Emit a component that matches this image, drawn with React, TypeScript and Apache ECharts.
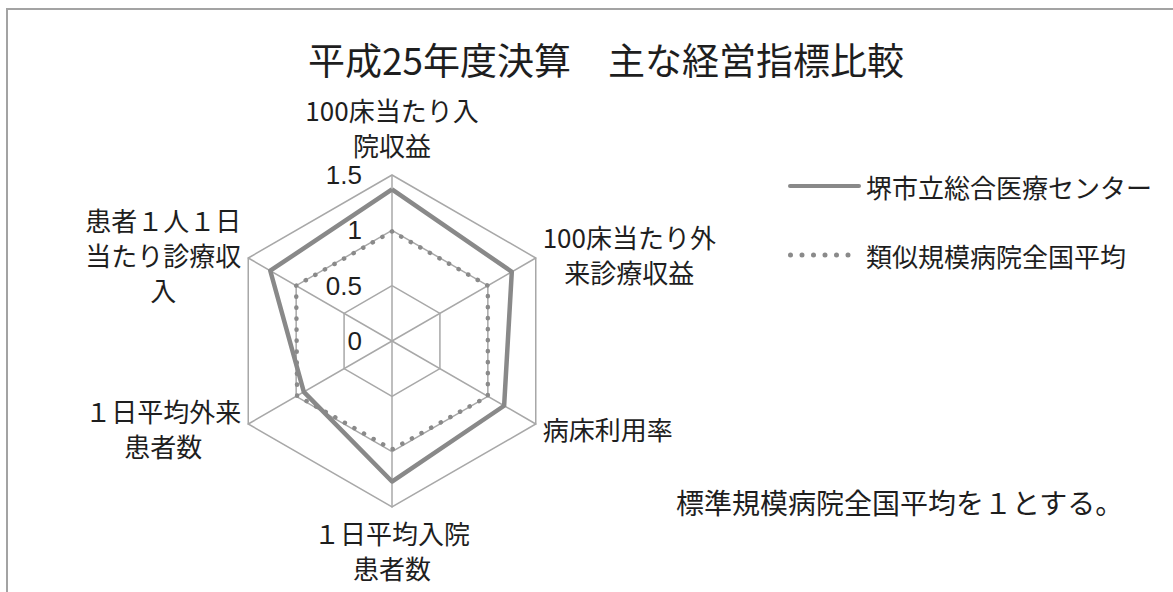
import { useEffect, useRef } from "react";
import * as echarts from "echarts";

const TITLE = "平成25年度決算　主な経営指標比較";
const NOTE = "標準規模病院全国平均を１とする。";
// indicators in ECharts order (counter-clockwise from the top)
const INDICATORS = [
  "100床当たり入\n院収益",
  "患者１人１日\n当たり診療収\n入",
  "１日平均外来\n患者数",
  "１日平均入院\n患者数",
  "病床利用率",
  "100床当たり外\n来診療収益",
];
const AXIS_MIN = 0;
const AXIS_MAX = 1.5;
const SPLIT_NUMBER = 3;
const SERIES_NAMES = ["堺市立総合医療センター", "類似規模病院全国平均"];
const SAKAI = [1.37, 1.27, 0.92, 1.27, 1.17, 1.25];
const SIMILAR = [0.99, 1.0, 0.99, 0.98, 1.0, 1.0];

const FONT = '"Noto Sans CJK JP", "Noto Sans", sans-serif';
const SOLID = "#898989";
const DOTTED = "#8a8a8a";
const GRID = "#a8a8a8";

const SOLID_ICON = "path://M2,0L71,0A2,2 0 0,1 71,4L2,4A2,2 0 0,1 2,0Z";
const DOT_ICON =
  "path://" +
  [2.5, 14, 25.5, 37, 48.5, 60]
    .map((c) => `M${c - 2.5},2.5a2.5,2.5 0 1,0 5,0a2.5,2.5 0 1,0 -5,0Z`)
    .join("") +
  "M73,0M73,5";

export default function App() {
  const ref = useRef<HTMLDivElement>(null);
  useEffect(() => {
    if (!ref.current) return;
    const chart = echarts.init(ref.current, undefined, { renderer: "svg" });
    chart.setOption({
      animation: false,
      backgroundColor: "#ffffff",
      title: {
        text: TITLE,
        left: 601,
        top: 35,
        textAlign: "center",
        textStyle: { fontFamily: FONT, fontSize: 37, fontWeight: "normal", color: "#1e1e1e" },
      },
      legend: {
        orient: "vertical",
        left: 788,
        top: 171,
        padding: 0,
        itemGap: 39,
        itemWidth: 73,
        itemHeight: 5,
        selectedMode: false,
        textStyle: { fontFamily: FONT, fontSize: 26, color: "#1e1e1e", lineHeight: 30 },
        data: [
          { name: SERIES_NAMES[0], icon: SOLID_ICON, itemStyle: { color: SOLID, borderWidth: 0 } },
          { name: SERIES_NAMES[1], icon: DOT_ICON, itemStyle: { color: DOTTED, borderWidth: 0 } },
        ],
      },
      radar: {
        center: [392, 341],
        radius: 166,
        startAngle: 90,
        splitNumber: SPLIT_NUMBER,
        shape: "polygon",
        nameGap: 8,
        indicator: INDICATORS.map((name, i) => ({
          name,
          min: AXIS_MIN,
          max: AXIS_MAX,
          axisLabel: { show: i === 0 },
        })),
        axisName: {
          color: "#1e1e1e",
          fontFamily: FONT,
          fontSize: 26,
          lineHeight: 35,
          formatter: (v: string) =>
            v
              .split("\n")
              .map((l) => `{c|${l}}`)
              .join("\n"),
          rich: {
            c: { align: "center", color: "#1e1e1e", fontFamily: FONT, fontSize: 26, lineHeight: 35 },
          },
        },
        axisLine: { lineStyle: { color: GRID, width: 1.5 } },
        splitLine: { lineStyle: { color: GRID, width: 1.5 } },
        splitArea: { show: false },
        axisTick: { show: false },
        axisLabel: {
          show: false,
          margin: 30,
          color: "#1e1e1e",
          fontFamily: '"Liberation Sans", Arial, sans-serif',
          fontSize: 26,
        },
      },
      graphic: [
        {
          type: "rect",
          silent: true,
          z: -10,
          shape: { x: 7, y: 9, width: 1400, height: 900 },
          style: { fill: "none", stroke: "#a3a3a3", lineWidth: 2 },
        },
        {
          type: "text",
          x: 676,
          y: 488,
          silent: true,
          style: { text: NOTE, fontFamily: FONT, fontSize: 28, fill: "#1e1e1e" },
        },
      ],
      series: [
        {
          type: "radar",
          symbol: "none",
          silent: true,
          data: [
            {
              name: SERIES_NAMES[1],
              value: SIMILAR,
              itemStyle: { color: DOTTED },
              lineStyle: { color: DOTTED, width: 4.5, type: [0.1, 10.9], cap: "round" },
            },
            {
              name: SERIES_NAMES[0],
              value: SAKAI,
              itemStyle: { color: SOLID },
              lineStyle: { color: SOLID, width: 4.5, join: "round" },
            },
          ],
        },
      ],
    });
    return () => chart.dispose();
  }, []);
  return (
    <div
      ref={ref}
      style={{ position: "absolute", left: 0, top: 0, width: 1173, height: 592, background: "#fff" }}
    />
  );
}
